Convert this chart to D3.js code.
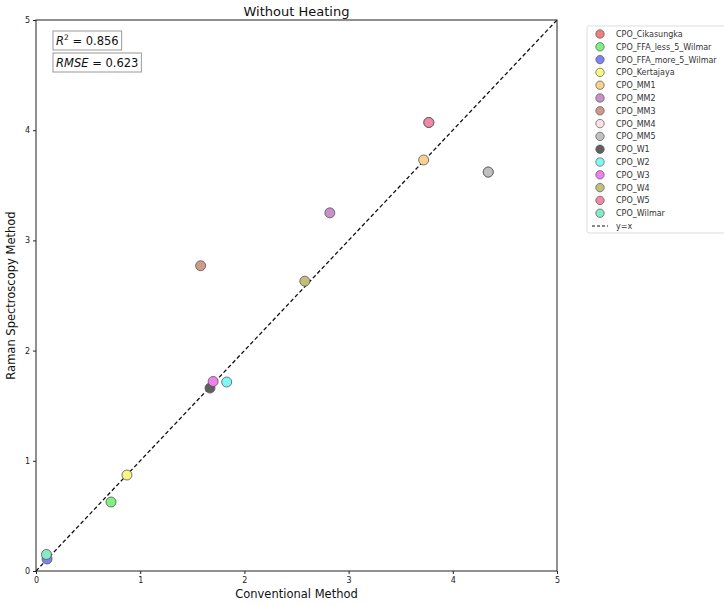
<!DOCTYPE html>
<html>
<head>
<meta charset="utf-8">
<script src="https://cdn.jsdelivr.net/npm/d3@7"></script>
<style>
  body { margin: 0; background: #fff; }
  text { font-family: "DejaVu Sans", sans-serif; }
</style>
</head>
<body>
<div id="chart"></div>
<script>
var samples = ["CPO_Cikasungka", "CPO_FFA_less_5_Wilmar", "CPO_FFA_more_5_Wilmar", "CPO_Kertajaya",
  "CPO_MM1", "CPO_MM2", "CPO_MM3", "CPO_MM4", "CPO_MM5", "CPO_W1", "CPO_W2", "CPO_W3",
  "CPO_W4", "CPO_W5", "CPO_Wilmar"];
var conventional = [3.77, 0.72, 0.106, 0.873, 3.72, 2.82, 1.58, 4.34, 4.34, 1.67, 1.83, 1.70, 2.58, 3.77, 0.10];
var raman = [4.07, 0.626, 0.109, 0.871, 3.73, 3.25, 2.77, 3.62, 3.62, 1.66, 1.715, 1.72, 2.63, 4.07, 0.15];
var colors = ["#f08080", "#80f080", "#8080f0", "#f8f880", "#f8d090", "#c890c8", "#d09a88", "#ffe0e4",
  "#c0c0c0", "#606060", "#80f8f8", "#f080f0", "#c0c078", "#f088a8", "#88e8c8"];
var ticks = [0, 1, 2, 3, 4, 5];
var r2 = 0.856, rmse = 0.623;

var margin = { top: 20, right: 167, bottom: 34, left: 36 };
var width = 724 - margin.left - margin.right;
var height = 605 - margin.top - margin.bottom;

var svg = d3.select("#chart").append("svg")
  .attr("width", 724).attr("height", 605);
var g = svg.append("g")
  .attr("transform", "translate(" + margin.left + "," + margin.top + ")");

var x = d3.scaleLinear().domain([0, 5]).range([0, width]);
var y = d3.scaleLinear().domain([0, 5]).range([height, 0]);

var xAxis = g.append("g").attr("transform", "translate(0," + height + ")")
  .call(d3.axisBottom(x).tickValues(ticks).tickSize(3).tickFormat(d3.format("d")));
var yAxis = g.append("g")
  .call(d3.axisLeft(y).tickValues(ticks).tickSize(3).tickFormat(d3.format("d")));
[xAxis, yAxis].forEach(function(a) {
  a.select(".domain").remove();
  a.selectAll("text").attr("font-size", 8).attr("fill", "#222");
  a.selectAll("line").attr("stroke", "#222");
});

// identity line
g.append("line")
  .attr("x1", x(0)).attr("y1", y(0)).attr("x2", x(5)).attr("y2", y(5))
  .attr("stroke", "#111").attr("stroke-width", 1.3).attr("stroke-dasharray", "4,2.5");

g.selectAll(".pt").data(samples).enter().append("circle")
  .attr("class", "pt")
  .attr("cx", function(d, i) { return x(conventional[i]); })
  .attr("cy", function(d, i) { return y(raman[i]); })
  .attr("r", 5)
  .attr("fill", function(d, i) { return colors[i]; })
  .attr("stroke", "#555").attr("stroke-width", 0.8);

g.append("rect").attr("width", width).attr("height", height)
  .attr("fill", "none").attr("stroke", "#222").attr("stroke-width", 1);

// stat boxes
var stats = [["R", "2", " = " + r2.toFixed(3)], ["RMSE", null, " = " + rmse.toFixed(3)]];
stats.forEach(function(s, i) {
  var yy = 11 + i * 22;
  var sg = g.append("g");
  var box = sg.append("rect");
  var t = sg.append("text").attr("x", 20).attr("y", yy + 14).attr("font-size", 11.5).attr("fill", "#111");
  t.append("tspan").attr("font-style", "italic").text(s[0]);
  if (s[1]) t.append("tspan").attr("font-size", 7.5).attr("dy", -5).text(s[1]);
  t.append("tspan").attr("dy", s[1] ? 5 : 0).text(s[2]);
  var bb = t.node().getBBox();
  box.attr("x", bb.x - 3).attr("y", yy).attr("width", bb.width + 6).attr("height", 19)
    .attr("fill", "#fff").attr("stroke", "#999");
});

svg.append("text").attr("x", margin.left + width / 2).attr("y", 16)
  .attr("text-anchor", "middle").attr("font-size", 13).attr("fill", "#111").text("Without Heating");
svg.append("text").attr("x", margin.left + width / 2).attr("y", 598)
  .attr("text-anchor", "middle").attr("font-size", 11.5).attr("fill", "#111").text("Conventional Method");
svg.append("text").attr("transform", "translate(15," + (margin.top + height / 2) + ") rotate(-90)")
  .attr("text-anchor", "middle").attr("font-size", 11.5).attr("fill", "#111").text("Raman Spectroscopy Method");

// legend
var lg = svg.append("g").attr("transform", "translate(587,26)");
lg.append("rect").attr("width", 140).attr("height", 207).attr("rx", 2)
  .attr("fill", "#fff").attr("stroke", "#ddd");
var step = 12.8;
samples.forEach(function(s, i) {
  var yy = 8 + i * step;
  lg.append("circle").attr("cx", 13).attr("cy", yy).attr("r", 4.2)
    .attr("fill", colors[i]).attr("stroke", "#555").attr("stroke-width", 0.7);
  lg.append("text").attr("x", 29).attr("y", yy + 3).attr("font-size", 8).attr("fill", "#333").text(s);
});
var ly = 8 + samples.length * step;
lg.append("line").attr("x1", 5).attr("x2", 21).attr("y1", ly).attr("y2", ly)
  .attr("stroke", "#111").attr("stroke-dasharray", "3,2");
lg.append("text").attr("x", 29).attr("y", ly + 3).attr("font-size", 8).attr("fill", "#333").text("y=x");
</script>
</body>
</html>
